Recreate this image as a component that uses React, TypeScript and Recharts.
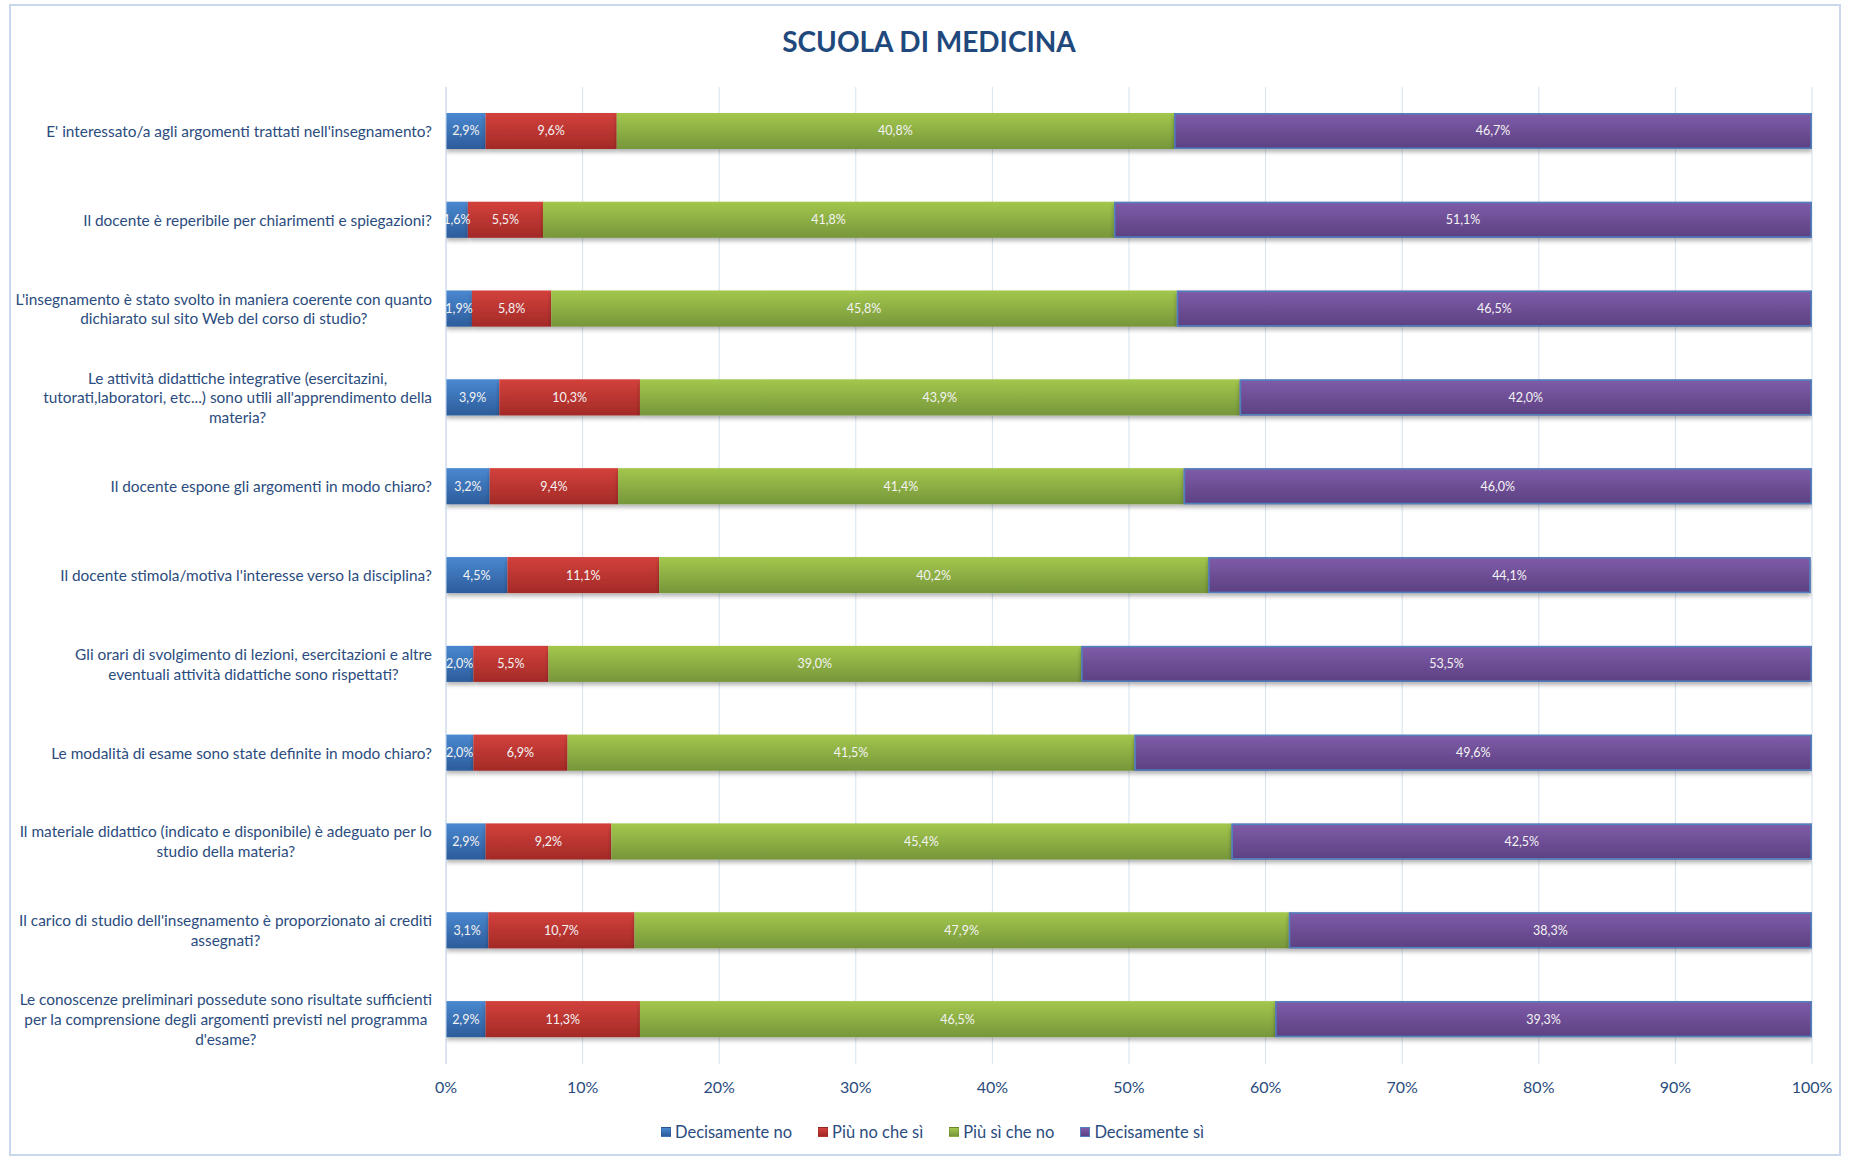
import { BarChart, Bar, XAxis, YAxis, CartesianGrid, Legend, LabelList } from "recharts";

const QUESTIONS = [
  "E' interessato/a agli argomenti trattati nell'insegnamento?",
  "Il docente è reperibile per chiarimenti e spiegazioni?",
  "L'insegnamento è stato svolto in maniera coerente con quanto\ndichiarato sul sito Web del corso di studio?",
  "Le attività didattiche integrative (esercitazini,\ntutorati,laboratori, etc...) sono utili all'apprendimento della\nmateria?",
  "Il docente espone gli argomenti in modo chiaro?",
  "Il docente stimola/motiva l'interesse verso la disciplina?",
  "Gli orari di svolgimento di lezioni, esercitazioni e altre\neventuali attività didattiche sono rispettati?",
  "Le modalità di esame sono state definite in modo chiaro?",
  "Il materiale didattico (indicato e disponibile) è adeguato per lo\nstudio della materia?",
  "Il carico di studio dell'insegnamento è proporzionato ai crediti\nassegnati?",
  "Le conoscenze preliminari possedute sono risultate sufficienti\nper la comprensione degli argomenti previsti nel programma\nd'esame?",
];

const DECISAMENTE_NO = [2.9, 1.6, 1.9, 3.9, 3.2, 4.5, 2.0, 2.0, 2.9, 3.1, 2.9];
const PIU_NO = [9.6, 5.5, 5.8, 10.3, 9.4, 11.1, 5.5, 6.9, 9.2, 10.7, 11.3];
const PIU_SI = [40.8, 41.8, 45.8, 43.9, 41.4, 40.2, 39.0, 41.5, 45.4, 47.9, 46.5];
const DECISAMENTE_SI = [46.7, 51.1, 46.5, 42.0, 46.0, 44.1, 53.5, 49.6, 42.5, 38.3, 39.3];

const X_TICKS = [0, 10, 20, 30, 40, 50, 60, 70, 80, 90, 100];

const SERIES = [
  { key: "no", name: "Decisamente no", color: "#3C73B8", top: "#4A88D0", bottom: "#2C5C9B" },
  { key: "piuNo", name: "Più no che sì", color: "#C0392F", top: "#D3413C", bottom: "#A32A27" },
  { key: "piuSi", name: "Più sì che no", color: "#8DB142", top: "#A3C74D", bottom: "#76963A" },
  { key: "si", name: "Decisamente sì", color: "#6E4E98", top: "#7F5CA9", bottom: "#5C4082" },
];

const data = QUESTIONS.map((q, i) => ({
  q,
  no: DECISAMENTE_NO[i],
  piuNo: PIU_NO[i],
  piuSi: PIU_SI[i],
  si: DECISAMENTE_SI[i],
}));

const FONT = "Lato, 'Open Sans', sans-serif";
const TEXT_COLOR = "#2B4C7E";
const LABEL_SIZE = 15.4;

const canvas = typeof document !== "undefined" ? document.createElement("canvas") : null;
const ctx = canvas ? canvas.getContext("2d") : null;

function textWidth(s: string) {
  if (!ctx) return s.length * 7;
  ctx.font = `${LABEL_SIZE}px Lato`;
  return ctx.measureText(s).width;
}

function QuestionTick(props: any) {
  const { x, y, payload } = props;
  const lines = String(payload.value).split("\n");
  const w = Math.max(...lines.map(textWidth));
  const cx = x - w / 2;
  const lh = 19.7;
  const y0 = y - ((lines.length - 1) * lh) / 2;
  return (
    <text textAnchor="middle" fill={TEXT_COLOR} fontSize={LABEL_SIZE} fontFamily={FONT}>
      {lines.map((l, i) => (
        <tspan key={i} x={cx} y={y0 + i * lh} dy="0.35em">
          {l}
        </tspan>
      ))}
    </text>
  );
}

function fmt(v: any) {
  return `${Number(v).toFixed(1).replace(".", ",")}%`;
}

function makeShape(idx: number) {
  return (props: any) => {
    const { x, y, width, height } = props;
    const isLast = idx === SERIES.length - 1;
    return (
      <g filter="url(#barShadow)">
        <rect x={x} y={y} width={width} height={height} fill={`url(#grad${idx})`} />
        {isLast ? (
          <rect x={x + 0.75} y={y + 0.75} width={Math.max(0, width - 1.5)} height={height - 1.5} fill="none" stroke="#4F81BD" strokeWidth={1.5} />
        ) : (
          <line x1={x} x2={x + width} y1={y + 0.5} y2={y + 0.5} stroke={SERIES[idx].top} strokeOpacity={0.6} />
        )}
      </g>
    );
  };
}

function LegendContent() {
  return (
    <div
      style={{
        display: "flex",
        justifyContent: "center",
        alignItems: "center",
        height: 20,
        fontFamily: FONT,
        fontSize: 16.5,
        color: TEXT_COLOR,
        gap: 26,
      }}
    >
      {SERIES.map((s, i) => (
        <span key={s.key} style={{ display: "flex", alignItems: "center" }}>
          <span
            style={{
              width: 10,
              height: 10,
              background: `linear-gradient(${s.top}, ${s.bottom})`,
              marginRight: 4,
              boxSizing: "border-box",
              border: i === SERIES.length - 1 ? "1px solid #4F81BD" : "1px solid rgba(0,0,0,0.12)",
            }}
          />
          {s.name}
        </span>
      ))}
    </div>
  );
}

export default function App() {
  return (
    <div style={{ position: "relative", width: 1849, height: 1158, background: "#fff" }}>
      <style>{`body{margin:0}`}</style>
      <div
        style={{
          position: "absolute",
          left: 9,
          top: 4,
          width: 1832,
          height: 1152,
          border: "2px solid #C9D8EC",
          boxSizing: "border-box",
          pointerEvents: "none",
        }}
      />
      <div
        style={{
          position: "absolute",
          left: 0,
          top: 24,
          width: 1858,
          textAlign: "center",
          fontFamily: FONT,
          fontWeight: 700,
          fontSize: 28,
          lineHeight: "34px",
          color: "#1F497D",
        }}
      >
        SCUOLA DI MEDICINA
      </div>
      <div style={{ position: "absolute", left: 0, top: 0 }}>
        <BarChart
          width={1849}
          height={1158}
          data={data}
          layout="vertical"
          margin={{ top: 87, right: 37, left: 10, bottom: 34 }}
          barSize={36}
        >
          <defs>
            {SERIES.map((s, i) => (
              <linearGradient key={s.key} id={`grad${i}`} x1="0" y1="0" x2="0" y2="1">
                <stop offset="0%" stopColor={s.top} />
                <stop offset="100%" stopColor={s.bottom} />
              </linearGradient>
            ))}
            <filter id="barShadow" x="-5%" y="-20%" width="110%" height="160%">
              <feDropShadow dx="0" dy="3" stdDeviation="2" floodColor="#000" floodOpacity="0.3" />
            </filter>
          </defs>
          <CartesianGrid horizontal={false} stroke="#D6E2F0" />
          <XAxis
            type="number"
            domain={[0, 100]}
            ticks={X_TICKS}
            allowDataOverflow
            tickFormatter={(v) => `${v}%`}
            axisLine={false}
            tickLine={false}
            tickSize={0}
            tickMargin={18}
            height={40}
            tick={{ fill: TEXT_COLOR, fontSize: 16, fontFamily: FONT }}
          />
          <YAxis
            type="category"
            dataKey="q"
            width={436}
            axisLine={{ stroke: "#C9D8EC" }}
            tickLine={false}
            tickSize={0}
            tickMargin={14}
            interval={0}
            tick={<QuestionTick />}
          />
          <Legend verticalAlign="bottom" content={<LegendContent />} wrapperStyle={{ bottom: 16, left: 8, width: 1849 }} />
          {SERIES.map((s, i) => (
            <Bar
              key={s.key}
              dataKey={s.key}
              name={s.name}
              stackId="a"
              fill={s.color}
              isAnimationActive={false}
              shape={makeShape(i)}
            >
              <LabelList
                dataKey={s.key}
                position="center"
                formatter={fmt}
                fill="#F4F4F4"
                fontSize={12.5}
                fontFamily={FONT}
              />
            </Bar>
          ))}
        </BarChart>
      </div>
    </div>
  );
}
